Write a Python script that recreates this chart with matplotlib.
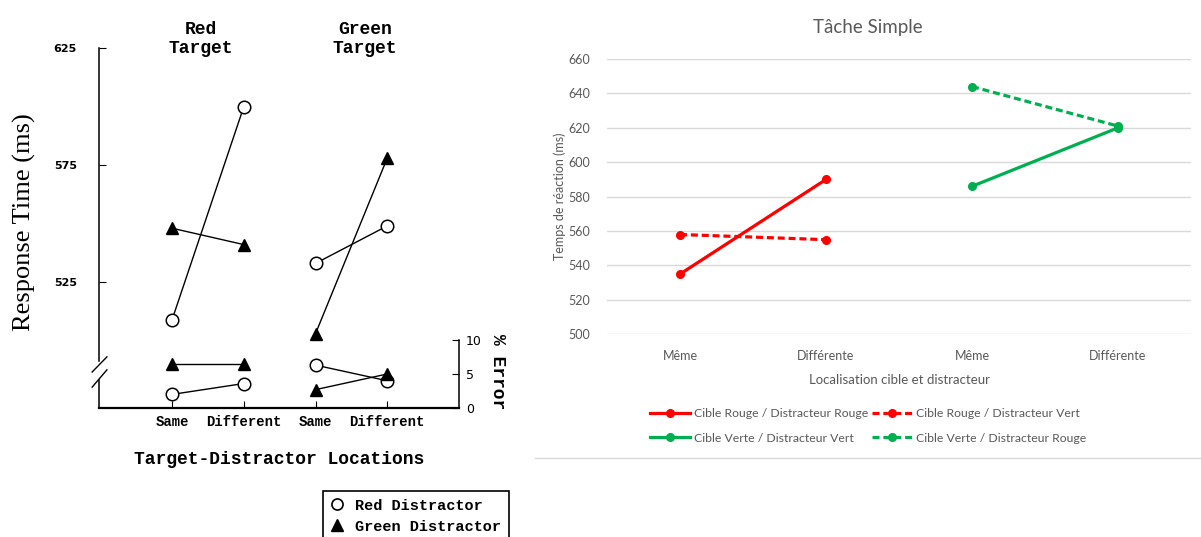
import matplotlib.pyplot as plt
from matplotlib.lines import Line2D
import numpy as np

# ---- left panel (scanned figure): response time + % error ----
loc_labels = ['Same', 'Different', 'Same', 'Different']
rt_red_dist = [509, 600, 533, 549]
rt_green_dist = [548, 541, 503, 578]
err_red_dist = [2.0, 3.6, 6.3, 4.0]
err_green_dist = [6.5, 6.5, 2.7, 5.0]
rt_ticks = [525, 575, 625]
err_ticks = [0, 5, 10]

# ---- right panel (Excel chart) ----
cat_labels = ['Même', 'Différente', 'Même', 'Différente']
cr_dr = [535, 590, np.nan, np.nan]
cr_dv = [558, 555, np.nan, np.nan]
cv_dv = [np.nan, np.nan, 586, 620]
cv_dr = [np.nan, np.nan, 644, 621]
right_ticks = [500, 520, 540, 560, 580, 600, 620, 640, 660]

W, H = 1201, 537
fig = plt.figure(figsize=(W / 100, H / 100), dpi=100)

mono = 'Liberation Mono'

# left axes
ax = fig.add_axes([99 / W, 1 - 408 / H, 360 / W, 360 / H])
ax.set_xlim(-1.02, 4.0)
ax.set_ylim(471.2, 625)
x = np.arange(4)
mk_o = dict(marker='o', ms=9, mfc='white', mec='black', mew=1.1, color='black', lw=1)
mk_t = dict(marker='^', ms=8, mfc='black', mec='black', color='black', lw=1)
for s in (slice(0, 2), slice(2, 4)):
    ax.plot(x[s], rt_red_dist[s], **mk_o)
    ax.plot(x[s], rt_green_dist[s], **mk_t)

ax.spines['top'].set_visible(False)
ax.spines['right'].set_visible(False)
ax.spines['left'].set_bounds(491.3, 625)
ax.spines['left'].set_linewidth(1.1)
ax.spines['bottom'].set_linewidth(1.6)
ax.set_yticks(rt_ticks)
ax.set_yticklabels([str(t) for t in rt_ticks], fontsize=8, fontweight='bold', family='DejaVu Sans')
ax.tick_params(axis='y', direction='in', length=5, pad=16)
ax.set_xticks(x)
ax.set_xticklabels(loc_labels, fontsize=10, fontweight='bold', family=mono)
ax.tick_params(axis='x', direction='in', length=5, pad=5)
ax.set_xlabel('Target-Distractor Locations', fontsize=13, fontweight='bold', family=mono, labelpad=16)

# axis break
ax.plot([0, 0], [0, 0.078], transform=ax.transAxes, color='black', lw=1.1, clip_on=False)
ax.plot([-0.019, 0.022], [0.100, 0.142], transform=ax.transAxes, color='black', lw=1, clip_on=False)
ax.plot([-0.019, 0.022], [0.058, 0.106], transform=ax.transAxes, color='black', lw=1, clip_on=False)

ax.text(-0.206, 0.517, 'Response Time (ms)', transform=ax.transAxes, rotation=90,
        ha='center', va='center', fontsize=19, family='Liberation Serif')
tr = ax.get_xaxis_transform()
ax.text(0.40, 1.025, 'Red\nTarget', transform=tr, ha='center', va='center',
        fontsize=13, fontweight='bold', family=mono, linespacing=1.1)
ax.text(2.69, 1.025, 'Green\nTarget', transform=tr, ha='center', va='center',
        fontsize=13, fontweight='bold', family=mono, linespacing=1.1)

ax2 = ax.twinx()
ax2.set_ylim(0, 52.9)
for s in (slice(0, 2), slice(2, 4)):
    ax2.plot(x[s], err_red_dist[s], **mk_o)
    ax2.plot(x[s], err_green_dist[s], **mk_t)
for sp in ['top', 'left', 'bottom']:
    ax2.spines[sp].set_visible(False)
ax2.spines['right'].set_bounds(0, 10)
ax2.spines['right'].set_linewidth(1.1)
ax2.set_yticks(err_ticks)
ax2.set_yticklabels([str(t) for t in err_ticks], fontsize=9, family='DejaVu Sans')
ax2.tick_params(axis='y', direction='in', length=5, pad=5)
ax2.text(1.106, 0.1, '% Error', transform=ax.transAxes, rotation=270,
         ha='center', va='center', fontsize=13, fontweight='bold', family=mono)

handles = [Line2D([], [], ls='none', marker='o', ms=8, mfc='white', mec='black', mew=1.2),
           Line2D([], [], ls='none', marker='^', ms=8, mfc='black', mec='black')]
leg = fig.legend(handles, ['Red Distractor', 'Green Distractor'], loc='upper left',
                 bbox_to_anchor=(323 / W, 1 - 491 / H), borderaxespad=0, fancybox=False,
                 framealpha=1, edgecolor='black', handlelength=0.8, handletextpad=0.8,
                 borderpad=0.5, labelspacing=0.45,
                 prop={'family': mono, 'weight': 'bold', 'size': 11})
leg.get_frame().set_linewidth(1.2)

# right axes
grey = '#595959'
sans = 'Lato'
red = '#FF0000'
green = '#00B050'
bx = fig.add_axes([607 / W, 1 - 334.3 / H, 584 / W, (334.3 - 59) / H])
bx.set_xlim(-0.5, 3.5)
bx.set_ylim(500, 660)
dash = (0, (2.2, 1.2))
l1, = bx.plot(x, cr_dr, color=red, lw=2.3, marker='o', ms=5.5, label='Cible Rouge / Distracteur Rouge')
l2, = bx.plot(x, cr_dv, color=red, lw=2.3, ls=dash, marker='o', ms=5.5,
              label='Cible Rouge / Distracteur Vert')
l3, = bx.plot(x, cv_dv, color=green, lw=2.3, marker='o', ms=5.5, label='Cible Verte / Distracteur Vert')
l4, = bx.plot(x, cv_dr, color=green, lw=2.3, ls=dash, marker='o', ms=5.5,
              label='Cible Verte / Distracteur Rouge')
for sp in bx.spines.values():
    sp.set_visible(False)
bx.set_yticks(right_ticks)
bx.yaxis.grid(True, color='#D9D9D9', lw=1)
bx.set_axisbelow(True)
bx.set_xticks(x)
bx.set_xticklabels(cat_labels)
bx.tick_params(length=0, labelsize=9, labelcolor=grey)
bx.tick_params(axis='y', pad=12)
bx.tick_params(axis='x', pad=11)
for lab in bx.get_xticklabels() + bx.get_yticklabels():
    lab.set_family(sans)
bx.set_xlabel('Localisation cible et distracteur', fontsize=9.5, color=grey, family=sans, labelpad=9)
bx.set_ylabel('Temps de réaction (ms)', fontsize=9, color=grey, family=sans, labelpad=2)
fig.text(868 / W, 1 - 28 / H, 'Tâche Simple', ha='center', va='center', fontsize=13.5,
         color=grey, family=sans)

fig.legend([l1, l3, l2, l4], [l1.get_label(), l3.get_label(), l2.get_label(), l4.get_label()],
           loc='center', bbox_to_anchor=(868 / W, 1 - 426 / H), ncol=2, frameon=False,
           handlelength=3.3, handletextpad=0.33, columnspacing=0.25, labelspacing=1.1,
           prop={'family': sans, 'size': 8.8}, labelcolor=grey)

fig.add_artist(Line2D([535 / W, 1.0], [1 - 458 / H, 1 - 458 / H], transform=fig.transFigure,
                      color='#D9D9D9', lw=1))

fig.savefig('out.png', dpi=100)
